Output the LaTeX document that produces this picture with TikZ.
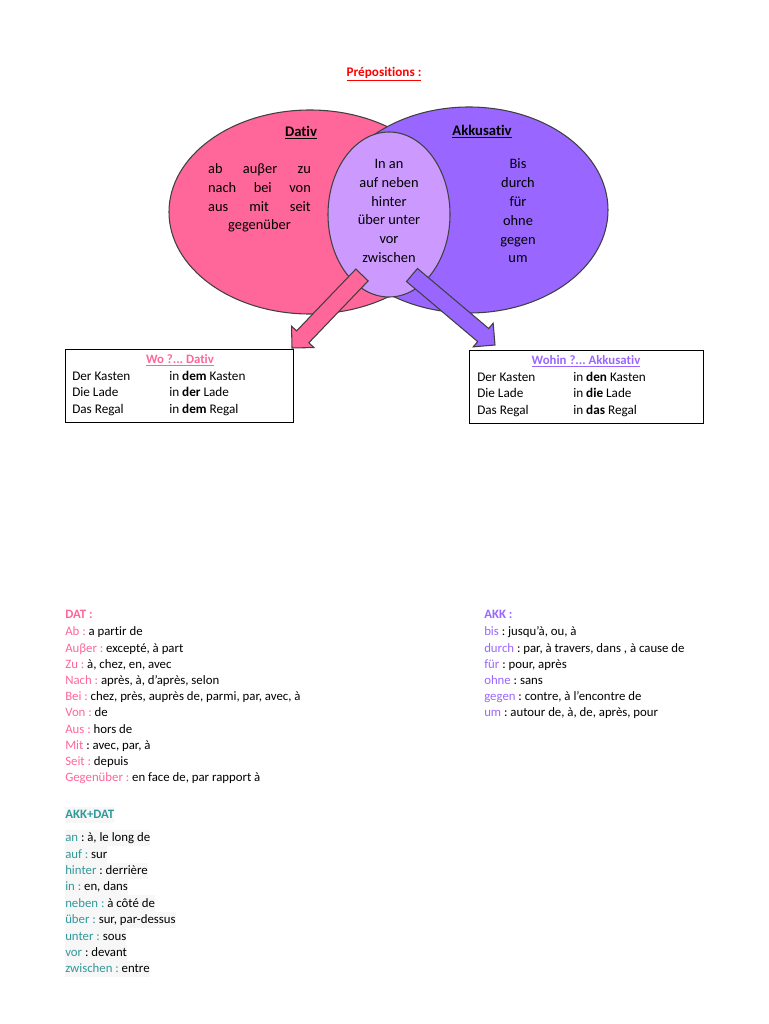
\documentclass[tikz,border=0pt]{standalone}
\usepackage{fontspec}
\setmainfont{Carlito}[Ligatures={NoCommon,NoContextual}]
\usetikzlibrary{calc, shapes.geometric}
\definecolor{datpink}{HTML}{FF6699}
\definecolor{akkpurple}{HTML}{9966FF}
\definecolor{mixlilac}{HTML}{CC99FF}
\definecolor{mixteal}{HTML}{31999B}
\definecolor{titlered}{HTML}{FF0000}
\definecolor{outline}{HTML}{404040}
\frenchspacing

% fat arrow from tail #1 to tip #2, filled with #3
\newcommand{\fatarrow}[3]{%
  \coordinate (headbase) at ($(#2)!11.6pt!(#1)$);
  \draw[blockarrow, fill=#3]
    ($(#1)!6.4pt!90:(#2)$) -- ($(headbase)!6.4pt!90:(#2)$)
    -- ($(headbase)!11.6pt!90:(#2)$) -- (#2)
    -- ($(headbase)!11.6pt!-90:(#2)$) -- ($(headbase)!6.4pt!-90:(#2)$)
    -- ($(#1)!6.4pt!-90:(#2)$) -- cycle;}

\begin{document}
\begin{tikzpicture}[x=0.75pt, y=-0.75pt,
  venn/.style={ellipse, draw=outline, line width=0.8pt, inner sep=0},
  blockarrow/.style={draw=outline, line width=0.8pt, line join=miter},
  head/.style={font=\fontsize{11}{13}\selectfont\bfseries},
  words/.style={font=\fontsize{10.8}{14.1}\selectfont, align=center, inner sep=0},
  tablebox/.style={draw, line width=0.8pt, minimum height=54.75pt, anchor=north west, inner sep=0},
  row/.style={font=\fontsize{9.6}{11}\selectfont, anchor=west, inner sep=0, text height=7pt, text depth=1.4pt},
  boxrow/.style={row, font=\fontsize{9.9}{11}\selectfont},
  rowhead/.style={row, font=\fontsize{9.6}{11}\selectfont\bfseries},
  mixrow/.style={row, fill=black!3, inner ysep=2pt}]

\path[use as bounding box] (0,0) rectangle (768,1024);

\node[rowhead, anchor=center, text=titlered, font=\fontsize{9.9}{11}\selectfont\bfseries] (title) at (384,73) {\underline{Prépositions :}};

% the three sets
\node[venn, fill=datpink, minimum width=211.5pt, minimum height=153pt] (dativ) at (310,212) {};
\node[venn, fill=akkpurple, minimum width=208.5pt, minimum height=154.5pt] (akk) at (469,210) {};
\node[venn, fill=mixlilac, minimum width=91.5pt, minimum height=123.75pt] (mix) at (389,214.5) {};

\node[head] (dativhead) at (301,133) {\underline{Dativ}};
\node[head] (akkhead) at (482,132) {\underline{Akkusativ}};

\node[words] (datwords) at (259.5,198) {\makebox[77pt][s]{ab auβer zu}\\
  \makebox[77pt][s]{nach bei von}\\ \makebox[77pt][s]{aus mit seit}\\ gegenüber};
\node[words] (mixwords) at (389,211) {In an\\auf neben\\hinter\\über unter\\vor\\zwischen};
\node[words] (akkwords) at (518,211) {Bis\\durch\\für\\ohne\\gegen\\um};

\coordinate (wotail) at (362,275);
\coordinate (wotip) at (292,348);
\coordinate (wohintail) at (412,275);
\coordinate (wohintip) at (495,345);
\fatarrow{wotail}{wotip}{datpink}
\fatarrow{wohintail}{wohintip}{akkpurple}

% question boxes
\node[tablebox, minimum width=171pt] (wobox) at (65,349) {};
\node[tablebox, minimum width=175.5pt] (wohinbox) at (469,350) {};
\node[rowhead, anchor=center, text=datpink] (wotitle) at (180,360) {\underline{Wo ?... Dativ}};
\node[rowhead, anchor=center, text=akkpurple] (wohintitle) at (586,361) {\underline{Wohin ?... Akkusativ}};
\foreach \nom/\art/\noun [count=\i] in {Der Kasten/dem/Kasten, Die Lade/der/Lade, Das Regal/dem/Regal} {
  \node[boxrow] (wo-l\i) at (72,{360+16.5*\i}) {\nom};
  \node[boxrow] (wo-r\i) at (169,{360+16.5*\i}) {in \textbf{\art} \noun};
}
\foreach \nom/\art/\noun [count=\i] in {Der Kasten/den/Kasten, Die Lade/die/Lade, Das Regal/das/Regal} {
  \node[boxrow] (wohin-l\i) at (477,{361+16.5*\i}) {\nom};
  \node[boxrow] (wohin-r\i) at (573,{361+16.5*\i}) {in \textbf{\art} \noun};
}

% word lists
\node[rowhead, text=datpink] (dathead) at (65,615) {DAT :};
\foreach \w/\m [count=\i] in {{Ab :}/{a partir de}, {Auβer :}/{excepté, à part},
    {Zu :}/{à, chez, en, avec}, {Nach :}/{après, à, d’après, selon},
    {Bei :}/{chez, près, auprès de, parmi, par, avec, à}, {Von :}/{de},
    {Aus :}/{hors de}, {Mit}/{: avec, par, à}, {Seit :}/{depuis},
    {Gegenüber :}/{en face de, par rapport à}}
  \node[row] (dat\i) at (65,{616+16.2*\i}) {\textcolor{datpink}{\w} \m};

\node[rowhead, fill=black!3, inner ysep=2pt, text=mixteal] (mixhead) at (65,815) {AKK+DAT};
\foreach \w/\m [count=\i] in {{an}/{: à, le long de}, {auf :}/{sur}, {hinter}/{: derrière},
    {in :}/{en, dans}, {neben :}/{à côté de}, {über :}/{sur, par-dessus},
    {unter :}/{sous}, {vor}/{: devant}, {zwischen :}/{entre}}
  \node[mixrow] (mix\i) at (65,{821.6+16.4*\i}) {\textcolor{mixteal}{\w} \m};

\node[rowhead, text=akkpurple] (akkhead2) at (484,615) {AKK :};
\foreach \w/\m [count=\i] in {{bis}/{: jusqu’à, ou, à}, {durch}/{: par, à travers, dans , à cause de},
    {für}/{: pour, après}, {ohne}/{: sans}, {gegen}/{: contre, à l’encontre de},
    {um}/{: autour de, à, de, après, pour}}
  \node[row] (akk\i) at (484,{616+16.2*\i}) {\textcolor{akkpurple}{\w} \m};
\end{tikzpicture}
\end{document}
